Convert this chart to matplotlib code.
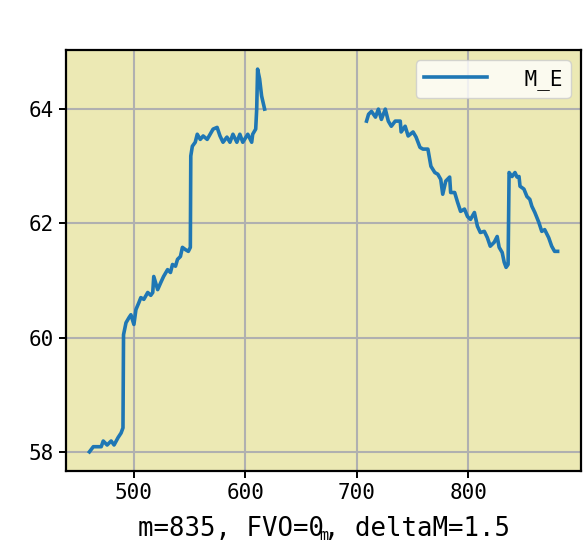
import numpy as np
import matplotlib
matplotlib.use('Agg')
from matplotlib import pyplot as plt

# first run of m values and M_E readings
m_a = [460.1, 463.6, 470.7, 472.5, 476.0, 479.6, 482.2, 485.8, 488.5, 490.2,
       490.7, 492.9, 495.6, 497.3, 500.0, 501.8, 504.4, 506.2, 508.9, 512.4,
       515.1, 516.9, 517.8, 521.3, 524.0, 526.6, 530.2, 532.8, 534.6, 537.3,
       539.1, 541.7, 543.5, 546.2, 548.8, 550.6, 551.0, 552.4, 555.0, 556.8,
       559.5, 562.1, 565.7, 568.3, 571.0, 574.6, 577.2, 579.9, 583.4, 586.1,
       588.8, 592.3, 595.0, 597.6, 602.1, 605.6, 606.5, 609.2, 610.1, 610.9,
       612.7, 614.5, 617.2]
me_a = [58.00, 58.09, 58.09, 58.19, 58.12, 58.19, 58.12, 58.25, 58.33, 58.42,
        60.05, 60.26, 60.35, 60.40, 60.23, 60.49, 60.61, 60.70, 60.67, 60.79,
        60.74, 60.79, 61.07, 60.84, 60.96, 61.07, 61.19, 61.14, 61.28, 61.25,
        61.37, 61.42, 61.58, 61.54, 61.51, 61.58, 63.18, 63.35, 63.42, 63.56,
        63.47, 63.53, 63.47, 63.56, 63.65, 63.68, 63.53, 63.42, 63.51, 63.42,
        63.56, 63.42, 63.56, 63.42, 63.56, 63.42, 63.56, 63.65, 64.00, 64.70,
        64.53, 64.23, 64.00]

# second run (after the gap)
m_b = [708.6, 710.4, 713.0, 716.6, 719.2, 721.9, 725.4, 728.1, 730.8, 734.3,
       738.8, 739.6, 743.2, 745.9, 750.3, 753.0, 756.5, 759.2, 763.6, 766.3,
       769.8, 772.5, 775.1, 776.9, 779.6, 783.1, 784.0, 787.6, 790.2, 792.9,
       796.4, 799.1, 801.8, 805.3, 808.0, 810.6, 814.2, 816.9, 819.5, 823.1,
       825.7, 827.5, 830.2, 832.0, 833.7, 835.5, 836.4, 839.0, 841.7, 843.5,
       845.3, 846.2, 849.7, 852.4, 855.0, 856.8, 859.5, 863.0, 865.7, 868.3,
       871.9, 874.6, 877.2, 879.9]
me_b = [63.79, 63.91, 63.96, 63.86, 64.00, 63.82, 64.00, 63.79, 63.70, 63.79,
        63.79, 63.60, 63.70, 63.53, 63.60, 63.51, 63.33, 63.30, 63.30, 63.00,
        62.89, 62.86, 62.77, 62.51, 62.74, 62.81, 62.54, 62.54, 62.37, 62.21,
        62.25, 62.12, 62.07, 62.19, 61.95, 61.84, 61.86, 61.75, 61.60, 61.67,
        61.77, 61.58, 61.49, 61.32, 61.23, 61.28, 62.89, 62.82, 62.89, 62.81,
        62.82, 62.65, 62.60, 62.47, 62.42, 62.30, 62.19, 62.02, 61.86, 61.89,
        61.75, 61.60, 61.51, 61.51]

m = np.concatenate([m_a, [np.nan], m_b])
me = np.concatenate([me_a, [np.nan], me_b])

plt.rcParams['font.family'] = ['DejaVu Sans Mono', 'DejaVu Sans']

fig = plt.figure(figsize=(5.83, 5.53), dpi=100)
ax = fig.add_axes([0.1132, 0.1483, 0.8834, 0.7613])
ax.set_facecolor('#ECE9B4')

ax.plot(m, me, color='#1f77b4', linewidth=2.6, label=' M_E')

ax.grid(True, color='#b0b0b0', linewidth=1.5)
ax.set_axisbelow(True)
for s in ax.spines.values():
    s.set_linewidth(1.6)
ax.tick_params(labelsize=15, width=1.4, length=5)
ax.set_xticks([500, 600, 700, 800])
ax.set_yticks([58, 60, 62, 64])

ax.legend(loc='upper right', fontsize=15, handlelength=3.0, handletextpad=1.2,
          framealpha=0.8)

ax.set_xlabel('m', fontsize=11)
ax.xaxis.set_label_coords(0.5, -0.135)
ax.text(0.5, -0.138, 'm=835, FVO=0, deltaM=1.5', transform=ax.transAxes,
        ha='center', va='center', fontsize=18.5)

fig.savefig('out.png', dpi=100)
